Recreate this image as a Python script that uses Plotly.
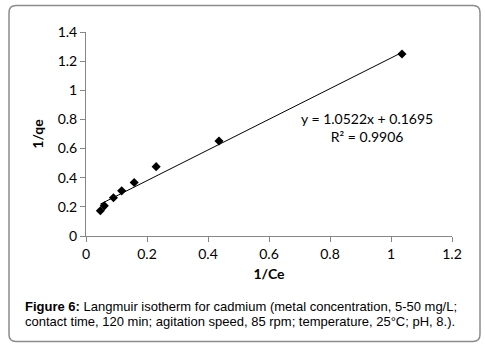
import plotly.graph_objects as go

x_vals = [0.047, 0.060, 0.090, 0.117, 0.158, 0.230, 0.436, 1.036]
y_vals = [0.173, 0.207, 0.262, 0.310, 0.367, 0.476, 0.652, 1.249]
slope = 1.0522
intercept = 0.1695
x_ticks = [0, 0.2, 0.4, 0.6, 0.8, 1, 1.2]
y_ticks = [0, 0.2, 0.4, 0.6, 0.8, 1, 1.2, 1.4]

W, H = 485, 348
L, R, T, B = 86, 33, 32, 112

fit_x = [min(x_vals), max(x_vals)]
fit_y = [slope * v + intercept for v in fit_x]

fig = go.Figure()
fig.add_trace(go.Scatter(x=fit_x, y=fit_y, mode="lines",
                         line=dict(color="black", width=1), showlegend=False, hoverinfo="skip"))
fig.add_trace(go.Scatter(x=x_vals, y=y_vals, mode="markers",
                         marker=dict(symbol="diamond", size=7, color="black"), showlegend=False))

tick_font = dict(family="Lato, Liberation Sans, sans-serif", size=14, color="black")
axis_common = dict(showline=True, linecolor="#868686", linewidth=1, ticks="outside",
                   tickcolor="#868686", ticklen=5, showgrid=False, zeroline=False,
                   tickfont=tick_font, automargin=False)

fig.update_xaxes(range=[0, 1.2], tickvals=x_ticks, ticktext=[f"{v:g}" for v in x_ticks],
                 title=dict(text="<b>1/Ce</b>", font=tick_font, standoff=8), **axis_common)
fig.update_yaxes(range=[0, 1.4], tickvals=y_ticks, ticktext=[f"{v:g}" for v in y_ticks],
                 title=dict(text="<b>1/qe</b>", font=tick_font, standoff=10), **axis_common)

PW, PH = W - L - R, H - T - B


def px(xp):
    return (xp - L) / PW


def py(yp):
    return (H - B - yp) / PH


# rounded frame
x0, x1, y0, y1, r = 9, 480, 5.5, 341.5, 7
path = (f"M {px(x0+r)},{py(y0)} L {px(x1-r)},{py(y0)} Q {px(x1)},{py(y0)} {px(x1)},{py(y0+r)} "
        f"L {px(x1)},{py(y1-r)} Q {px(x1)},{py(y1)} {px(x1-r)},{py(y1)} "
        f"L {px(x0+r)},{py(y1)} Q {px(x0)},{py(y1)} {px(x0)},{py(y1-r)} "
        f"L {px(x0)},{py(y0+r)} Q {px(x0)},{py(y0)} {px(x0+r)},{py(y0)} Z")
fig.add_shape(type="path", path=path, xref="paper", yref="paper",
              line=dict(color="#8c8c8c", width=1.5), layer="above")

fig.add_annotation(x=px(367), y=py(127.5), xref="paper", yref="paper",
                   text="y = 1.0522x + 0.1695<br>R² = 0.9906", showarrow=False,
                   font=dict(family="Lato, Liberation Sans, sans-serif", size=14, color="black"),
                   align="center", xanchor="center", yanchor="middle")

cap_font = dict(family="Liberation Sans, Arial, sans-serif", size=13, color="black")
fig.add_annotation(x=px(23), y=py(306), xref="paper", yref="paper",
                   text="<b>Figure 6:</b> Langmuir isotherm for cadmium (metal concentration, 5-50 mg/L;",
                   showarrow=False, font=cap_font, xanchor="left", yanchor="middle")
fig.add_annotation(x=px(23), y=py(321), xref="paper", yref="paper",
                   text="contact time, 120 min; agitation speed, 85 rpm; temperature, 25°C; pH, 8.).",
                   showarrow=False, font=cap_font, xanchor="left", yanchor="middle")

fig.update_layout(width=W, height=H, margin=dict(l=L, r=R, t=T, b=B),
                  plot_bgcolor="white", paper_bgcolor="white")

fig.write_html("out.html", config={"displayModeBar": False},
               post_script="document.body.style.margin='0';")
